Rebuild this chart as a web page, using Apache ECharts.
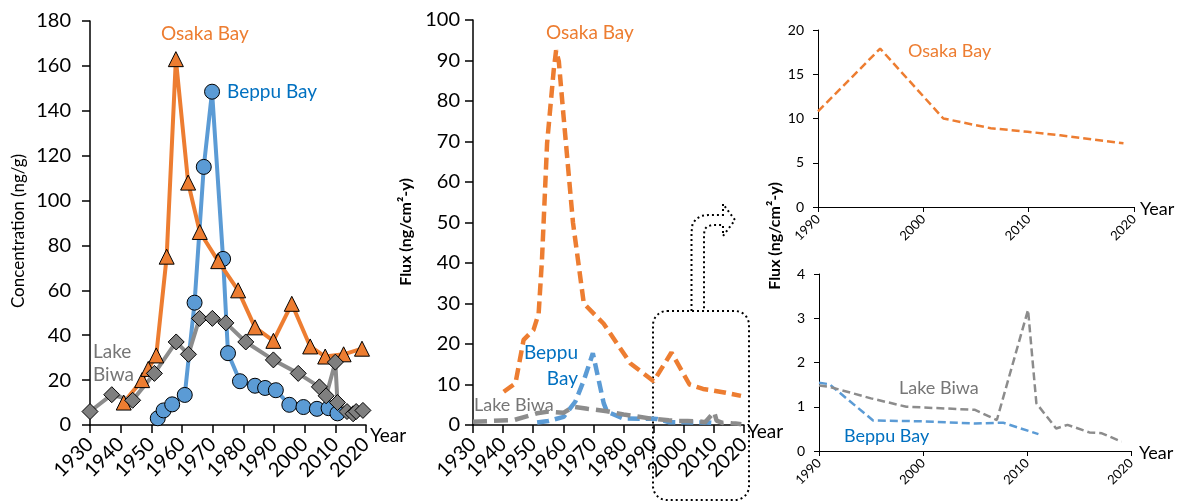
<!DOCTYPE html>
<html><head><meta charset="utf-8">
<script src="https://cdn.jsdelivr.net/npm/echarts@6/dist/echarts.min.js"></script>
<style>html,body{margin:0;padding:0;background:#fff}#c{width:1178px;height:502px}</style>
</head><body><div id="c"></div>
<script>
const FONT = 'Lato';
// ---- Panel 1: concentration (ng/g)
const concOsakaYears = [1941, 1947, 1949, 1951.6, 1955, 1958, 1962, 1965.8, 1971.8, 1978.3, 1983.8, 1989.8, 1995.8, 2001.8, 2006.7, 2012.7, 2018.7];
const concOsaka      = [10, 20, 25, 31, 75, 163, 108, 86, 73, 60, 43.5, 37.5, 54, 35, 30.5, 31.5, 34];
const concBeppuYears = [1952.1, 1954, 1956.8, 1960.9, 1964.1, 1967.1, 1969.8, 1973.4, 1975, 1978.9, 1983.8, 1987.1, 1990.6, 1995, 1999.6, 2004, 2007.8, 2010.7];
const concBeppu      = [3, 6.5, 9.2, 13.4, 54.5, 115, 148.5, 74, 32, 19.5, 17.5, 16.5, 15.5, 9, 8, 7.2, 7.5, 5.2];
const concBiwaYears  = [1930, 1937.1, 1943.9, 1951, 1958.1, 1962.1, 1965.7, 1969.9, 1974.3, 1980.8, 1989.8, 1997.9, 2004.8, 2007, 2010, 2010.7, 2013.8, 2015.8, 2016.8, 2019];
const concBiwa       = [6, 13.5, 11, 23, 37, 31.5, 47.5, 47.5, 45.5, 37, 29, 23, 17, 13, 28, 10, 6, 5, 6, 6.5];
// ---- Panels 2-4: flux (ng/cm2-y)
const fluxOsakaYears = [1940.2, 1944.1, 1946.8, 1950.1, 1951.8, 1952.9, 1954.6, 1956.8, 1957.6, 1958.5, 1960.1, 1963.2, 1966.8, 1973.4, 1982.3, 1990, 1995.9, 2001.9, 2006.4, 2009.9, 2013, 2019];
const fluxOsaka      = [8.2, 10.3, 21, 23.5, 27.5, 40.7, 69.5, 87.6, 92.5, 89.8, 76, 50, 30, 25, 15.2, 10.8, 17.9, 10.0, 8.9, 8.5, 8.1, 7.2];
const fluxBeppuYears = [1951.3, 1955, 1960.1, 1964, 1966.8, 1969.8, 1973.4, 1974.5, 1980, 1990, 1991, 1995.2, 2000, 2005, 2007.7, 2011.1];
const fluxBeppu      = [0.6, 1.0, 2.0, 5.8, 11, 17.7, 5.4, 3.3, 1.6, 1.54, 1.51, 0.69, 0.67, 0.62, 0.64, 0.38];
const fluxBiwaYears  = [1930, 1936, 1943.5, 1951.3, 1955, 1960, 1963.4, 1968, 1974.5, 1980, 1990, 1991, 1995, 1998.4, 2001.3, 2005, 2007.1, 2010.1, 2010.9, 2012.8, 2013.9, 2016, 2017.2, 2019.1];
const fluxBiwa       = [0.8, 1.0, 1.2, 2.9, 3.3, 3.0, 4.5, 4.0, 3.4, 2.6, 1.48, 1.45, 1.19, 1.0, 0.97, 0.93, 0.7, 3.19, 1.08, 0.51, 0.59, 0.42, 0.4, 0.21];

const ORANGE = '#ED7D31', BLUE = '#5B9BD5', GREY = '#8C8C8C', BLUE_TXT = '#0070C0', GREY_TXT = '#767676';

function pairs(xs, ys, from) {
  const out = [];
  xs.forEach((x, i) => { if (from === undefined || x >= from) out.push([x, ys[i]]); });
  return out;
}
function xAx(gi, min, max, interval, fs, margin, lw, tl) {
  return {type:'value', gridIndex:gi, min, max, interval,
    axisLine:{show:true, onZero:false, lineStyle:{color:'#000', width:lw}},
    axisTick:{show:true, inside:false, length:tl, lineStyle:{color:'#000', width:lw}},
    axisLabel:{rotate:45, fontSize:fs, fontFamily:FONT, color:'#000', margin, formatter:v=>String(v)},
    splitLine:{show:false}};
}
function yAx(gi, min, max, interval, fs, margin, lw, tl) {
  return {type:'value', gridIndex:gi, min, max, interval,
    axisLine:{show:true, onZero:false, lineStyle:{color:'#000', width:lw}},
    axisTick:{show:true, inside:false, length:tl, lineStyle:{color:'#000', width:lw}},
    axisLabel:{fontSize:fs, fontFamily:FONT, color:'#000', margin, formatter:v=>String(v)},
    splitLine:{show:false}};
}
function markerLine(gi, data, color, symbol, size, fill) {
  return {type:'line', xAxisIndex:gi, yAxisIndex:gi, data, symbol, symbolSize:size, showSymbol:true,
    lineStyle:{color, width:4}, itemStyle:{color:fill, borderColor:'#000', borderWidth:1}, silent:true};
}
function dashLine(gi, data, color, width, dash) {
  return {type:'line', xAxisIndex:gi, yAxisIndex:gi, data, showSymbol:false, symbol:'none',
    lineStyle:{color, width, type:dash, cap:'butt'}, silent:true};
}
function txt(x, y, text, color, size, align, weight, rot) {
  const e = {type:'text', x, y, silent:true,
    style:{text, fill:color, font:(weight||'normal') + ' ' + size + 'px ' + FONT,
      textAlign:align||'left', textVerticalAlign:'middle', align:align||'left', verticalAlign:'middle'}};
  if (rot) e.rotation = rot;
  return e;
}

const arrowPts = [[691.5,311],[691.5,232],[692.5,224],[696,219],[701,216],[708,215],[723,215],[723,204],[735,220],[723,236],[723,225],[712,225],[707,226.5],[704.5,229.5],[704,235],[704,311]];

const option = {
  animation:false,
  backgroundColor:'#fff',
  grid:[
    {left:90, top:21, width:276, height:404},
    {left:473, top:20, width:271, height:405},
    {left:818, top:30, width:316, height:177},
    {left:819, top:274, width:312, height:177}
  ],
  xAxis:[
    xAx(0, 1930, 2020, 10, 20, 16, 1.5, 8),
    xAx(1, 1930, 2020, 10, 20, 16, 1.5, 8),
    xAx(2, 1990, 2020, 10, 13, 10, 1, 5),
    xAx(3, 1990, 2020, 10, 13, 10, 1, 5)
  ],
  yAxis:[
    yAx(0, 0, 180, 20, 20, 19, 1.5, 8),
    yAx(1, 0, 100, 10, 20, 13, 1.5, 8),
    yAx(2, 0, 20, 5, 14, 14, 1, 5),
    yAx(3, 0, 4, 1, 14, 14, 1, 5)
  ],
  series:[
    markerLine(0, pairs(concBeppuYears, concBeppu), BLUE, 'circle', 15, BLUE),
    markerLine(0, pairs(concOsakaYears, concOsaka), ORANGE, 'triangle', 15, ORANGE),
    markerLine(0, pairs(concBiwaYears, concBiwa), GREY, 'diamond', 16, '#7F7F7F'),
    dashLine(1, pairs(fluxOsakaYears, fluxOsaka), ORANGE, 4.5, [12, 6]),
    dashLine(1, pairs(fluxBeppuYears, fluxBeppu), BLUE, 4.5, [12, 6]),
    dashLine(1, pairs(fluxBiwaYears, fluxBiwa), GREY, 4.5, [14, 7]),
    dashLine(2, pairs(fluxOsakaYears, fluxOsaka, 1990), ORANGE, 2.5, [8, 4]),
    dashLine(3, pairs(fluxBeppuYears, fluxBeppu, 1990), BLUE, 2.5, [8, 4]),
    dashLine(3, pairs(fluxBiwaYears, fluxBiwa, 1990), GREY, 2.5, [8, 4])
  ],
  graphic:[
    // panel 1
    txt(161, 34, 'Osaka Bay', ORANGE, 19),
    txt(227, 92, 'Beppu Bay', BLUE_TXT, 19),
    txt(93, 352, 'Lake', GREY_TXT, 19),
    txt(93, 375, 'Biwa', GREY_TXT, 19),
    txt(370, 436, 'Year', '#000', 19),
    txt(19, 231, 'Concentration (ng/g)', '#000', 17, 'center', 'normal', Math.PI/2),
    // panel 2
    txt(546, 33, 'Osaka Bay', ORANGE, 19),
    txt(578, 353, 'Beppu', BLUE_TXT, 19, 'right'),
    txt(578, 379, 'Bay', BLUE_TXT, 19, 'right'),
    txt(474, 405, 'Lake Biwa', GREY_TXT, 18),
    txt(747, 432, 'Year', '#000', 19),
    txt(406, 232, 'Flux (ng/cm²-y)', '#000', 16, 'center', 'bold', Math.PI/2),
    // panel 3/4
    txt(908, 51, 'Osaka Bay', ORANGE, 18),
    txt(1140, 209, 'Year', '#000', 18),
    txt(899, 388, 'Lake Biwa', GREY_TXT, 18),
    txt(844, 436, 'Beppu Bay', BLUE_TXT, 18),
    txt(1139, 453, 'Year', '#000', 18),
    txt(775, 236, 'Flux (ng/cm²-y)', '#000', 16, 'center', 'bold', Math.PI/2),
    // zoom box and arrow
    {type:'rect', silent:true, shape:{x:653, y:311, width:96, height:189, r:14},
      style:{fill:'none', stroke:'#000', lineWidth:2, lineDash:[2, 3]}},
    {type:'polyline', silent:true, shape:{points:arrowPts},
      style:{fill:'none', stroke:'#000', lineWidth:2, lineDash:[2, 3]}}
  ]
};
const chart = echarts.init(document.getElementById('c'));
chart.setOption(option);
</script></body></html>
